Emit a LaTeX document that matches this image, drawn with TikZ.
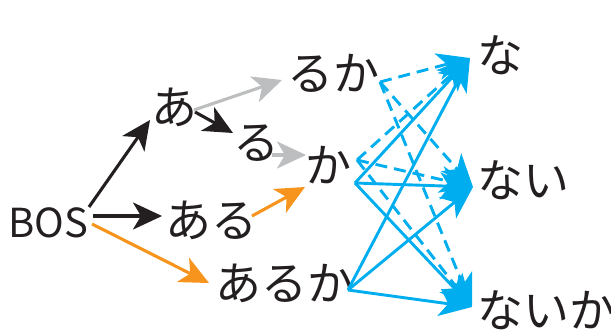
\documentclass[tikz,border=0pt]{standalone}
\usepackage{fontspec}
\setmainfont{Noto Sans CJK JP}
\usetikzlibrary{arrows.meta}
\definecolor{ink}{HTML}{231F20}
\definecolor{greyc}{HTML}{BCBEC0}
\definecolor{orangec}{HTML}{F7941D}
\definecolor{bluec}{HTML}{00AEEF}
\begin{document}
\begin{tikzpicture}[x=1pt,y=-1pt,
  lbl/.style={inner sep=0pt, anchor=base west, font=\fontsize{46}{50}\selectfont, text=ink},
  arr/.style={line width=3.1pt, -{Stealth[length=29pt,width=27pt,inset=8pt]}},
  barr/.style={line width=2.9pt, bluec, -{Stealth[length=33pt,width=27pt,inset=9pt]}},
  dsh/.style={barr, dash pattern=on 12pt off 7pt}]
\useasboundingbox (0,0) rectangle (611,333);
% labels
\node[lbl, font=\fontsize{40}{48}\selectfont] (bos) at (8,237) {BOS};
\node[lbl] (a)    at (151,124) {あ};
\node[lbl] (ru)   at (233,159) {る};
\node[lbl] (ruka) at (287,90)  {るか};
\node[lbl] (ka)   at (305,182) {か};
\node[lbl] (aru)  at (165,237) {ある};
\node[lbl] (aruka) at (215,300) {あるか};
\node[lbl] (na)   at (477,72)  {な};
\node[lbl] (nai)  at (477,197) {ない};
\node[lbl] (naika) at (477,327) {ないか};
% ports
\coordinate (bosA) at (89,207);
\coordinate (bosB) at (93,216);
\coordinate (bosC) at (92,224);
\coordinate (aIn)  at (150,120);
\coordinate (aOut1) at (195,112);
\coordinate (aOut2) at (194,110);
\coordinate (ruIn) at (233,133);
\coordinate (ruOut) at (272,155);
\coordinate (rukaIn) at (282,80);
\coordinate (rukaOut) at (380,82);
\coordinate (kaIn1) at (306,155);
\coordinate (kaIn2) at (305,187);
\coordinate (kaOut1) at (357,160);
\coordinate (kaOut2) at (355,183);
\coordinate (aruIn) at (162,216);
\coordinate (aruOut) at (252,216);
\coordinate (arukaIn) at (209,283);
\coordinate (arukaOut) at (348,290);
\coordinate (naIn) at (470,58);
\coordinate (naiIn) at (473,187);
\coordinate (naikaIn) at (472,307);
% black / grey / orange
\draw[arr, ink] (bosA) -- (aIn);
\draw[arr, ink] (bosB) -- (aruIn);
\draw[arr, orangec] (bosC) -- (arukaIn);
\draw[arr, ink] (aOut1) -- (ruIn);
\draw[arr, greyc] (aOut2) -- (rukaIn);
\draw[arr, greyc] (ruOut) -- (kaIn1);
\draw[arr, orangec] (aruOut) -- (kaIn2);
% blue dashed
\draw[dsh] (rukaOut) -- (naIn);
\draw[dsh] (rukaOut) -- (naiIn);
\draw[dsh] (rukaOut) -- (naikaIn);
\draw[dsh] (kaOut1) -- (naIn);
\draw[dsh] (kaOut1) -- (naiIn);
\draw[dsh] (kaOut1) -- (naikaIn);
% blue solid
\draw[barr] (kaOut2) -- (naIn);
\draw[barr] (kaOut2) -- (naiIn);
\draw[barr] (kaOut2) -- (naikaIn);
\draw[barr] (arukaOut) -- (naIn);
\draw[barr] (arukaOut) -- (naiIn);
\draw[barr] (arukaOut) -- (naikaIn);
\end{tikzpicture}
\end{document}
